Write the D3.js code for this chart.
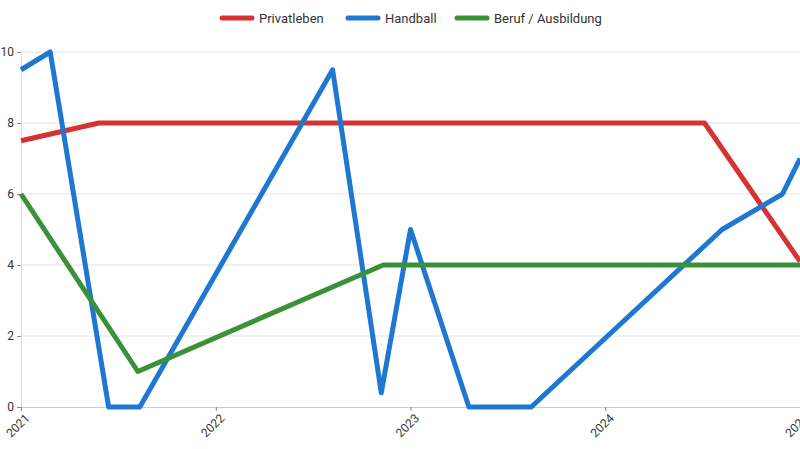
<!DOCTYPE html><html><head><script src="https://cdn.jsdelivr.net/npm/d3@7"></script>
<style>body{margin:0;background:#fff}text{font-family:Roboto,sans-serif}</style></head><body><svg id="c" width="800" height="449"></svg>
<script>
const seriesNames=["Privatleben","Handball","Beruf / Ausbildung"];
const colors=["#d63232","#1e78d2","#3a9238"];
const privatleben=[[2021,7.5],[2021.4,8],[2024.51,8],[2025,4.1]];
const handball=[[2021,9.5],[2021.15,10],[2021.45,0],[2021.61,0],[2022.6,9.5],[2022.85,0.4],[2023.0,5],[2023.3,0],[2023.62,0],[2024.6,5],[2024.91,6],[2025,7]];
const beruf=[[2021,6],[2021.6,1],[2022.86,4],[2025,4]];
const yTicks=[0,2,4,6,8,10];
const xTicks=[2021,2022,2023,2024,2025];
const svg=d3.select("#c");
const x=d3.scaleLinear().domain([2021,2025]).range([21,800]);
const y=d3.scaleLinear().domain([0,10]).range([407,52]);
svg.append("g").selectAll("line").data(yTicks.slice(1)).join("line").attr("x1",21).attr("x2",800).attr("y1",d=>y(d)).attr("y2",d=>y(d)).attr("stroke","#e3e3e3");
const ya=svg.append("g").attr("transform","translate(21,0)").call(d3.axisLeft(y).tickValues(yTicks).tickSize(4).tickFormat(d3.format("d")));
ya.select(".domain").attr("stroke","#ddd");ya.selectAll(".tick line").attr("stroke","#888");ya.selectAll("text").attr("font-size",12).attr("fill","#333");
const xa=svg.append("g").attr("transform","translate(0,407)").call(d3.axisBottom(x).tickValues(xTicks).tickSize(4).tickFormat(d3.format("d")));
xa.select(".domain").attr("stroke","#ccc");xa.selectAll(".tick line").attr("stroke","#888");
xa.selectAll("text").attr("font-size",12).attr("fill","#333").attr("text-anchor","end").attr("transform","translate(1,4) rotate(-45)").attr("dy","0.35em");
const line=d3.line().x(d=>x(d[0])).y(d=>y(d[1]));
[privatleben,handball,beruf].forEach((s,i)=>svg.append("path").datum(s).attr("d",line).attr("fill","none").attr("stroke",colors[i]).attr("stroke-width",5).attr("stroke-linejoin","round"));
const lx=[222,348,457];
seriesNames.forEach((n,i)=>{svg.append("line").attr("x1",lx[i]).attr("x2",lx[i]+30).attr("y1",18).attr("y2",18).attr("stroke",colors[i]).attr("stroke-width",5).attr("stroke-linecap","round");
svg.append("text").attr("x",lx[i]+37).attr("y",22.5).attr("font-size",13).attr("fill","#333").text(n);});
</script></body></html>
